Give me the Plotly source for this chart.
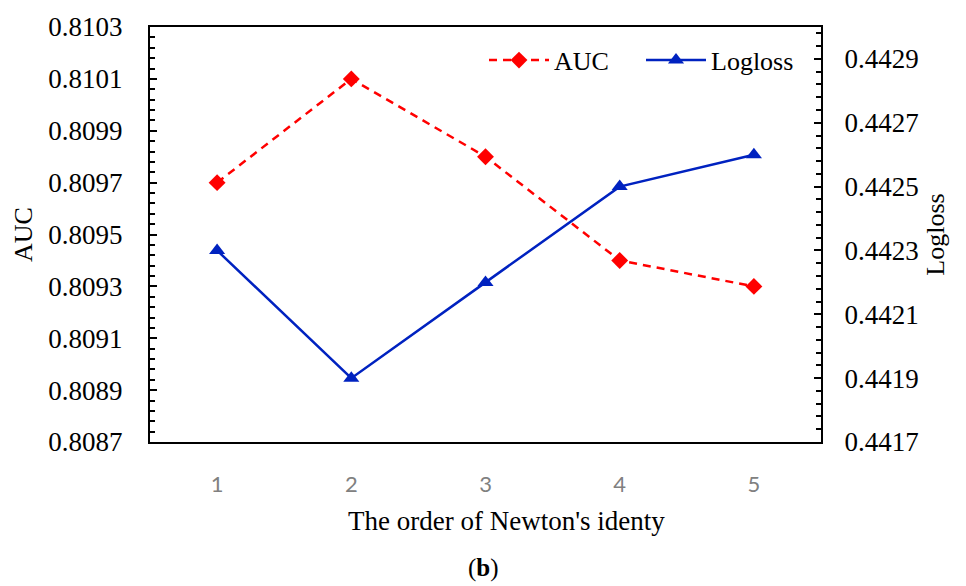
import plotly.graph_objects as go

orders = [1, 2, 3, 4, 5]
auc = [0.8097, 0.8101, 0.8098, 0.8094, 0.8093]
logloss = [0.4423, 0.4419, 0.4422, 0.4425, 0.4426]

auc_ticks = [0.8087, 0.8089, 0.8091, 0.8093, 0.8095, 0.8097, 0.8099, 0.8101, 0.8103]
log_ticks = [0.4417, 0.4419, 0.4421, 0.4423, 0.4425, 0.4427, 0.4429]

SERIF = "Liberation Serif"

fig = go.Figure()
fig.add_trace(go.Scatter(
    x=orders, y=auc, name="AUC", mode="lines+markers",
    line=dict(color="#FF0000", width=2.5, dash="8px,6px"),
    marker=dict(symbol="diamond", size=13, color="#FF0000"),
    yaxis="y",
))
fig.add_trace(go.Scatter(
    x=orders, y=logloss, name="Logloss", mode="lines+markers",
    line=dict(color="#0022C0", width=2.5),
    marker=dict(symbol="triangle-up", size=14, color="#0022C0"),
    yaxis="y2",
))

fig.update_layout(
    width=966, height=586,
    margin=dict(l=150, r=145, t=22, b=144),
    paper_bgcolor="white", plot_bgcolor="white",
    font=dict(family=SERIF, size=26, color="black"),
    showlegend=True,
    legend=dict(
        orientation="h", x=(484 - 150) / 671, xanchor="left", y=0.92, yanchor="middle",
        font=dict(family=SERIF, size=26, color="black"),
        bgcolor="rgba(0,0,0,0)", itemwidth=60,
        entrywidth=82, entrywidthmode="pixels",
    ),
    xaxis=dict(
        range=[0.5, 5.5], tickvals=orders, ticktext=[str(o) for o in orders],
        showline=True, linecolor="black", linewidth=2, mirror=True,
        ticks="", showgrid=False, zeroline=False,
        tickfont=dict(family="Lato", size=22, color="#808080"),
        ticklabelstandoff=22,
    ),
    yaxis=dict(
        range=[0.8087, 0.8103], tickvals=auc_ticks,
        ticktext=[f"{v:.4f}" for v in auc_ticks],
        showline=True, linecolor="black", linewidth=2,
        ticks="inside", ticklen=7, tickwidth=2, tickcolor="black",
        minor=dict(ticks="inside", ticklen=5, tickwidth=2, tickcolor="black",
                   tick0=0.8087, dtick=0.00004),
        showgrid=False, zeroline=False,
        tickfont=dict(family=SERIF, size=27),
        ticklabelstandoff=20,
        title=dict(text="AUC", font=dict(family=SERIF, size=26), standoff=8),
    ),
    yaxis2=dict(
        overlaying="y", side="right",
        range=[0.4417, 0.4430], tickvals=log_ticks,
        ticktext=[f"{v:.4f}" for v in log_ticks],
        showline=True, linecolor="black", linewidth=2,
        ticks="inside", ticklen=7, tickwidth=2, tickcolor="black",
        minor=dict(ticks="inside", ticklen=5, tickwidth=2, tickcolor="black",
                   tick0=0.4417, dtick=0.00004),
        showgrid=False, zeroline=False,
        tickfont=dict(family=SERIF, size=27),
        ticklabelstandoff=16,
        title=dict(text="Logloss", font=dict(family=SERIF, size=26), standoff=8),
    ),
    annotations=[
        dict(text="The order of Newton's identy", xref="paper", yref="paper",
             x=(506 - 150) / 671, y=(442 - 522) / 420, xanchor="center", yanchor="middle",
             showarrow=False, font=dict(family=SERIF, size=27, color="black")),
        dict(text="(<b>b</b>)", xref="paper", yref="paper",
             x=(483 - 150) / 671, y=(442 - 570) / 420, xanchor="center", yanchor="middle",
             showarrow=False, font=dict(family=SERIF, size=25, color="black")),
    ],
)

fig.write_html("out.html")
